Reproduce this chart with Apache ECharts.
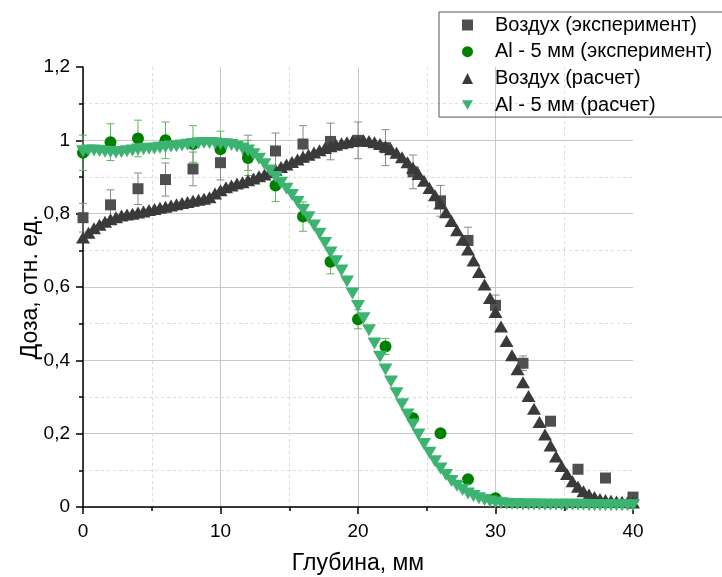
<!DOCTYPE html>
<html>
<head>
<meta charset="utf-8">
<script src="https://cdn.jsdelivr.net/npm/echarts@6/dist/echarts.min.js"></script>
<style>html,body{margin:0;padding:0;background:#fff;}#c{width:722px;height:577px;}</style>
</head>
<body>
<div id="c"></div>
<script>
// ---- Data ----
const seriesNames = ['Воздух (эксперимент)', 'Al - 5 мм (эксперимент)', 'Воздух (расчет)', 'Al - 5 мм (расчет)'];
const xTitle = 'Глубина, мм';
const yTitle = 'Доза, отн. ед.';
const yTickLabels = ['0', '0,2', '0,4', '0,6', '0,8', '1', '1,2'];
const xTickLabels = ['0', '10', '20', '30', '40'];

const airExpDepth = [0, 2, 4, 6, 8, 10, 12, 14, 16, 18, 20, 22, 24, 26, 28, 30, 32, 34, 36, 38, 40];
const airExpDose  = [0.789, 0.824, 0.868, 0.893, 0.922, 0.939, 0.966, 0.971, 0.990, 0.997, 1.000, 0.980, 0.914, 0.835, 0.727, 0.550, 0.392, 0.234, 0.103, 0.079, 0.027];
const airExpErr   = [0.039, 0.041, 0.043, 0.045, 0.046, 0.047, 0.048, 0.049, 0.050, 0.050, 0.050, 0.049, 0.046, 0.042, 0.036, 0.028, 0.020, 0.012, 0.005, 0.004, 0.001];

const alExpDepth = [0, 2, 4, 6, 8, 10, 12, 14, 16, 18, 20, 22, 24, 26, 28, 30];
const alExpDose  = [0.966, 0.995, 1.005, 1.000, 0.990, 0.976, 0.952, 0.877, 0.792, 0.669, 0.512, 0.438, 0.242, 0.201, 0.076, 0.024];
const alExpErr   = [0.048, 0.050, 0.050, 0.050, 0.050, 0.049, 0.048, 0.044, 0.040, 0.033, 0.026, 0.022, 0.012, 0.010, 0.004, 0.001];

const calcDepth = [0, 0.4, 0.8, 1.2, 1.6, 2, 2.4, 2.8, 3.2, 3.6, 4, 4.4, 4.8, 5.2, 5.6, 6, 6.4, 6.8, 7.2, 7.6,
  8, 8.4, 8.8, 9.2, 9.6, 10, 10.4, 10.8, 11.2, 11.6, 12, 12.4, 12.8, 13.2, 13.6, 14, 14.4, 14.8, 15.2, 15.6,
  16, 16.4, 16.8, 17.2, 17.6, 18, 18.4, 18.8, 19.2, 19.6, 20, 20.4, 20.8, 21.2, 21.6, 22, 22.4, 22.8, 23.2, 23.6,
  24, 24.4, 24.8, 25.2, 25.6, 26, 26.4, 26.8, 27.2, 27.6, 28, 28.4, 28.8, 29.2, 29.6, 30, 30.4, 30.8, 31.2, 31.6,
  32, 32.4, 32.8, 33.2, 33.6, 34, 34.4, 34.8, 35.2, 35.6, 36, 36.4, 36.8, 37.2, 37.6, 38, 38.4, 38.8, 39.2, 39.6, 40];

const airCalcDose = [0.735, 0.748, 0.760, 0.770, 0.778, 0.785, 0.790, 0.795, 0.798, 0.800,
  0.803, 0.806, 0.810, 0.813, 0.816, 0.819, 0.822, 0.826, 0.829, 0.832,
  0.835, 0.838, 0.841, 0.845, 0.855, 0.864, 0.872, 0.877, 0.882, 0.886,
  0.891, 0.896, 0.902, 0.907, 0.913, 0.920, 0.927, 0.934, 0.941, 0.948,
  0.955, 0.961, 0.967, 0.973, 0.979, 0.984, 0.988, 0.992, 0.995, 0.998,
  0.999, 1.000, 0.998, 0.995, 0.990, 0.984, 0.976, 0.966, 0.954, 0.940,
  0.925, 0.908, 0.890, 0.870, 0.850, 0.828, 0.804, 0.780, 0.755, 0.729,
  0.702, 0.672, 0.641, 0.607, 0.570, 0.532, 0.492, 0.453, 0.414, 0.376,
  0.340, 0.303, 0.268, 0.232, 0.198, 0.168, 0.138, 0.112, 0.090, 0.070,
  0.055, 0.043, 0.034, 0.027, 0.022, 0.019, 0.017, 0.015, 0.014, 0.013, 0.012];

const alCalcDose = [0.970, 0.972, 0.972, 0.971, 0.969, 0.968, 0.967, 0.968, 0.970, 0.972,
  0.975, 0.976, 0.977, 0.978, 0.980, 0.982, 0.983, 0.984, 0.986, 0.988,
  0.990, 0.992, 0.993, 0.993, 0.992, 0.990, 0.989, 0.987, 0.983, 0.978,
  0.972, 0.962, 0.950, 0.935, 0.918, 0.900, 0.884, 0.868, 0.851, 0.832,
  0.810, 0.790, 0.768, 0.745, 0.720, 0.694, 0.670, 0.645, 0.615, 0.582,
  0.548, 0.515, 0.482, 0.446, 0.410, 0.375, 0.342, 0.310, 0.280, 0.252,
  0.225, 0.198, 0.172, 0.148, 0.125, 0.105, 0.087, 0.071, 0.058, 0.047,
  0.037, 0.030, 0.024, 0.019, 0.015, 0.012, 0.010, 0.009, 0.008, 0.008,
  0.007, 0.007, 0.007, 0.007, 0.006, 0.006, 0.006, 0.006, 0.006, 0.006,
  0.006, 0.006, 0.005, 0.005, 0.005, 0.005, 0.005, 0.005, 0.005, 0.005, 0.005];

// ---- Build ----
const FONT = "'Liberation Sans', Arial, sans-serif";
const pairs = (xs, ys) => xs.map((x, i) => [x, ys[i]]);
const triples = (xs, ys, es) => xs.map((x, i) => [x, ys[i], es[i]]);

function errorBars(data, color) {
  return {
    type: 'custom',
    data: data,
    encode: { x: 0, y: 1 },
    silent: true,
    z: 1,
    renderItem: function (params, api) {
      const x = api.value(0), y = api.value(1), e = api.value(2);
      const t = api.coord([x, y + e]);
      const b = api.coord([x, y - e]);
      const w = 4;
      const st = { stroke: color, lineWidth: 1 };
      return {
        type: 'group',
        children: [
          { type: 'line', shape: { x1: t[0], y1: t[1], x2: b[0], y2: b[1] }, style: st },
          { type: 'line', shape: { x1: t[0] - w, y1: t[1], x2: t[0] + w, y2: t[1] }, style: st },
          { type: 'line', shape: { x1: b[0] - w, y1: b[1], x2: b[0] + w, y2: b[1] }, style: st }
        ]
      };
    }
  };
}

const downTri = 'path://M0,0 L12,0 L6,10.4 Z';

const chart = echarts.init(document.getElementById('c'), null, { renderer: 'canvas' });
chart.setOption({
  animation: false,
  backgroundColor: '#ffffff',
  textStyle: { fontFamily: FONT },
  grid: { left: 83, right: 89, top: 67, bottom: 70, containLabel: false, outerBoundsMode: 'none' },
  legend: {
    orient: 'vertical',
    left: 439,
    top: 12,
    padding: [3, 60, 2, 23],
    itemGap: 6.7,
    itemWidth: 11,
    itemHeight: 11,
    borderColor: '#555555',
    borderWidth: 1,
    selectedMode: false,
    textStyle: { fontFamily: FONT, fontSize: 20, color: '#000', lineHeight: 20, padding: [0, 0, 0, 17] },
    data: seriesNames
  },
  xAxis: {
    type: 'value',
    min: 0, max: 40, interval: 10,
    name: xTitle,
    nameLocation: 'middle',
    nameGap: 45,
    nameMoveOverlap: false,
    nameTextStyle: { fontFamily: FONT, fontSize: 23, color: '#000' },
    axisLine: { show: true, onZero: false, lineStyle: { color: '#000', width: 1.5 } },
    axisTick: { show: true, length: 7, lineStyle: { color: '#000', width: 1.5 } },
    minorTick: { show: true, splitNumber: 2, length: 4, lineStyle: { color: '#000', width: 1.5 } },
    axisLabel: { fontFamily: FONT, fontSize: 19, color: '#000', margin: 15,
      formatter: (v) => xTickLabels[Math.round(v / 10)] },
    splitLine: { show: true, showMaxLine: false, lineStyle: { color: '#c8c8c8', width: 1 } },
    minorSplitLine: { show: true, lineStyle: { color: '#dcdcdc', width: 1, type: [3, 3] } }
  },
  yAxis: {
    type: 'value',
    min: 0, max: 1.2, interval: 0.2,
    name: yTitle,
    nameLocation: 'middle',
    nameGap: 41,
    nameMoveOverlap: false,
    nameTextStyle: { fontFamily: FONT, fontSize: 23, color: '#000' },
    axisLine: { show: true, onZero: false, lineStyle: { color: '#000', width: 1.5 } },
    axisTick: { show: true, length: 7, lineStyle: { color: '#000', width: 1.5 } },
    minorTick: { show: true, splitNumber: 2, length: 4, lineStyle: { color: '#000', width: 1.5 } },
    axisLabel: { fontFamily: FONT, fontSize: 19, color: '#000', margin: 13,
      formatter: (v) => yTickLabels[Math.round(v / 0.2)] },
    splitLine: { show: true, showMaxLine: false, lineStyle: { color: '#c8c8c8', width: 1 } },
    minorSplitLine: { show: true, lineStyle: { color: '#dcdcdc', width: 1, type: [3, 3] } }
  },
  series: [
    errorBars(triples(airExpDepth, airExpDose, airExpErr), '#8a8a8a'),
    errorBars(triples(alExpDepth, alExpDose, alExpErr), '#5cb85c'),
    {
      name: seriesNames[0], type: 'scatter', z: 2,
      symbol: 'rect', symbolSize: 11,
      itemStyle: { color: '#4f4f4f', opacity: 1 },
      data: pairs(airExpDepth, airExpDose)
    },
    {
      name: seriesNames[1], type: 'scatter', z: 3,
      symbol: 'circle', symbolSize: 12,
      itemStyle: { color: '#008000', opacity: 1 },
      data: pairs(alExpDepth, alExpDose)
    },
    {
      name: seriesNames[2], type: 'scatter', z: 4,
      symbol: 'triangle', symbolSize: [14, 12],
      itemStyle: { color: '#3a3a3a', opacity: 1 },
      data: pairs(calcDepth, airCalcDose)
    },
    {
      name: seriesNames[3], type: 'scatter', z: 5,
      symbol: downTri, symbolSize: [14, 12],
      itemStyle: { color: '#3cb371', opacity: 1 },
      data: pairs(calcDepth, alCalcDose)
    }
  ]
});
</script>
</body>
</html>
